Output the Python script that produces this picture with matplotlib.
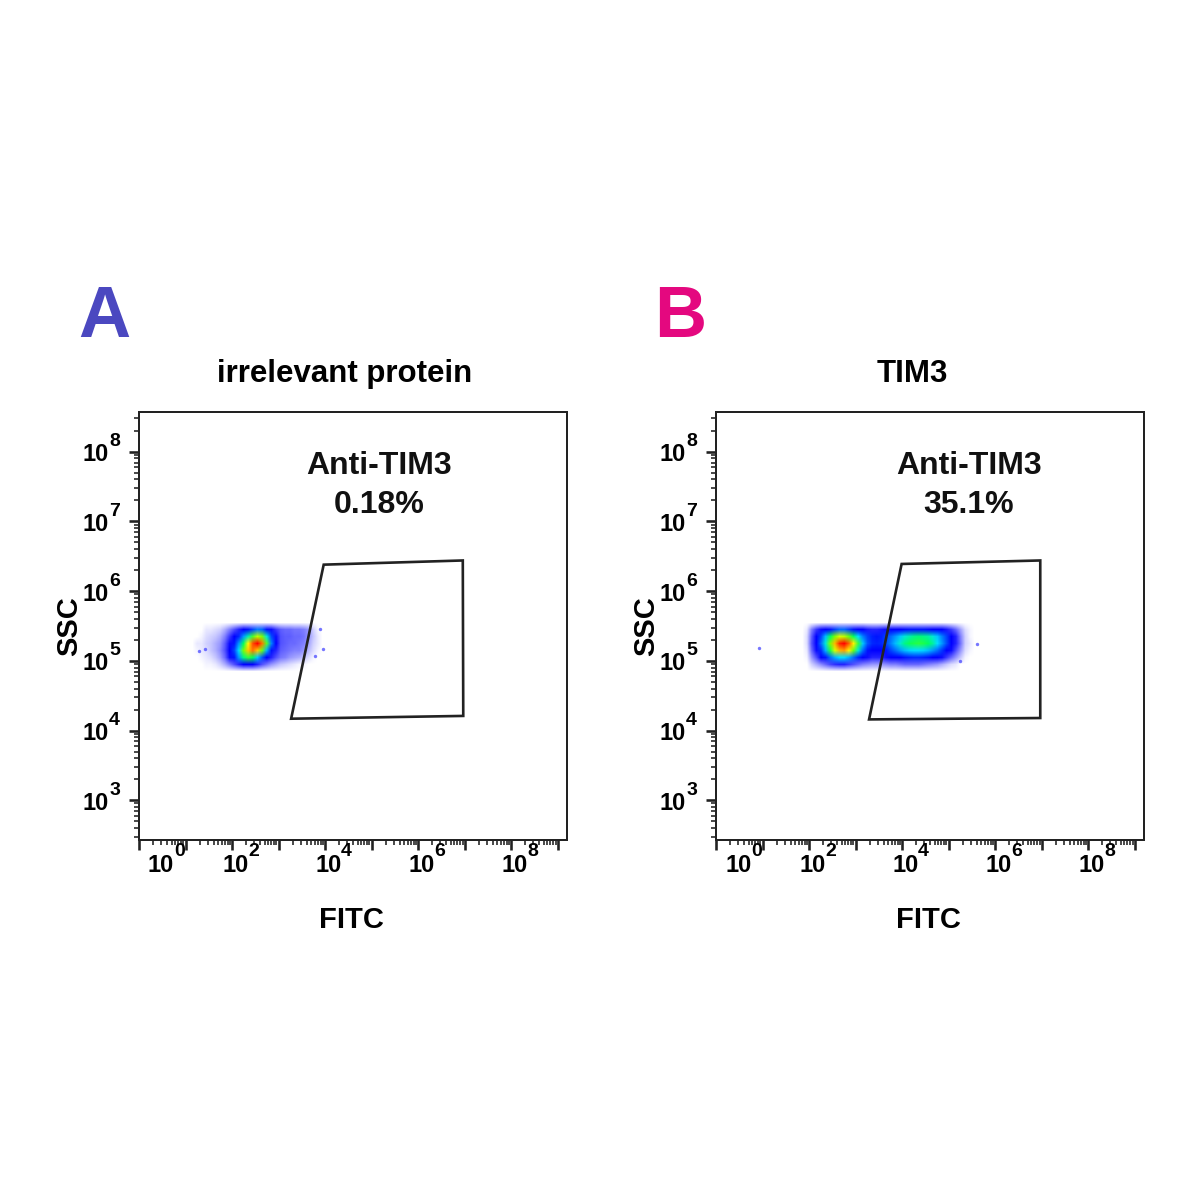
import numpy as np
import matplotlib
matplotlib.use('Agg')
import matplotlib.pyplot as plt
from matplotlib.colors import LinearSegmentedColormap

plt.rcParams['font.family'] = ['Liberation Sans', 'DejaVu Sans']
plt.rcParams['font.weight'] = 'bold'

# everything is in log10 units (FITC on x, SSC on y)
letters = ['A', 'B']
letter_colors = ['#4b48c0', '#e4087f']
titles = ['irrelevant protein', 'TIM3']
gate_name = 'Anti-TIM3'
gate_pcts = ['0.18%', '35.1%']

gate_a_x = [3.27, 3.97, 6.96, 6.97]
gate_a_y = [4.17, 6.38, 6.44, 4.21]
gate_b_x = [3.29, 3.99, 6.97, 6.97]
gate_b_y = [4.16, 6.39, 6.44, 4.18]

gate_text_x = [5.16, 5.44]
gate_text_y = [7.80, 7.24]

# density of events, rows from SSC 10^5.45 down to 10^4.95, one column per 0.1 decade of FITC
dens_y = (4.9, 5.5)
dens_a_x = (1.2, 3.9)
dens_a = [
    [0, 0, 0.3, 0.3, 0.4, 0.5, 0.8, 1.2, 1.6, 2.0, 2.5, 3.0, 3.5, 4.0, 3.8, 3.0, 2.2, 1.8, 1.5, 1.4, 1.4, 1.3, 1.3, 1.2, 1.0, 0.5, 0.2],
    [0, 0.2, 0.4, 0.5, 0.6, 0.8, 1.2, 1.8, 2.4, 3.2, 4.2, 5.2, 6.2, 7.0, 6.5, 5.0, 3.5, 2.2, 1.6, 1.5, 1.5, 1.4, 1.4, 1.3, 1.0, 0.6, 0.3],
    [0.3, 0.3, 0.5, 0.6, 0.8, 1.0, 1.5, 2.2, 3.0, 4.2, 5.6, 7.5, 9.2, 10, 8.8, 6.2, 4.0, 2.4, 1.6, 1.5, 1.4, 1.4, 1.3, 1.2, 0.9, 0.5, 0.3],
    [0.2, 0.3, 0.4, 0.6, 0.8, 1.1, 1.6, 2.4, 3.4, 4.8, 6.5, 8.0, 8.8, 8.0, 6.4, 4.4, 3.0, 2.0, 1.5, 1.4, 1.3, 1.2, 1.2, 1.0, 0.7, 0.4, 0.2],
    [0, 0.2, 0.3, 0.4, 0.6, 0.9, 1.4, 2.2, 3.0, 4.2, 5.4, 6.0, 5.6, 4.6, 3.6, 2.6, 2.0, 1.6, 1.3, 1.2, 1.0, 0.9, 0.8, 0.6, 0.4, 0.2, 0],
    [0, 0, 0.2, 0.2, 0.3, 0.5, 0.8, 1.2, 1.6, 2.0, 2.4, 2.5, 2.3, 2.0, 1.6, 1.3, 1.0, 0.8, 0.6, 0.5, 0.4, 0.3, 0.2, 0.2, 0, 0, 0],
]
dens_b_x = (1.9, 5.5)
dens_b = [
    [0.3, 1.2, 1.8, 2.2, 2.6, 3.0, 3.4, 3.8, 3.8, 3.4, 3.0, 2.6, 2.3, 2.1, 2.0, 2.0, 2.1, 2.2, 2.4, 2.6,
     2.8, 2.9, 3.0, 3.0, 3.0, 3.0, 2.9, 2.8, 2.6, 2.4, 2.1, 1.8, 1.4, 0.9, 0.4, 0.2],
    [0.4, 1.5, 2.4, 3.4, 4.5, 5.6, 6.6, 7.2, 7.0, 6.4, 5.6, 4.8, 4.0, 3.4, 3.1, 3.0, 3.1, 3.4, 3.8, 4.2,
     4.6, 5.0, 5.2, 5.4, 5.5, 5.4, 5.3, 5.0, 4.6, 4.0, 3.4, 2.6, 2.0, 1.2, 0.5, 0.2],
    [0.4, 1.6, 2.6, 3.8, 5.0, 6.6, 8.2, 9.6, 10, 9.0, 7.6, 6.0, 4.6, 3.6, 3.2, 3.1, 3.2, 3.5, 4.0, 4.5,
     5.0, 5.4, 5.7, 5.8, 5.9, 5.8, 5.6, 5.3, 4.8, 4.2, 3.5, 2.7, 2.0, 1.3, 0.5, 0.3],
    [0.3, 1.4, 2.2, 3.2, 4.4, 5.8, 7.2, 8.2, 8.4, 7.6, 6.4, 5.0, 3.8, 3.0, 2.7, 2.6, 2.7, 3.0, 3.4, 3.8,
     4.2, 4.5, 4.7, 4.8, 4.8, 4.7, 4.5, 4.2, 3.8, 3.3, 2.8, 2.2, 1.6, 1.0, 0.4, 0.2],
    [0.2, 1.0, 1.6, 2.3, 3.0, 3.8, 4.4, 4.8, 4.8, 4.4, 3.8, 3.2, 2.6, 2.2, 2.0, 2.0, 2.0, 2.2, 2.4, 2.6,
     2.8, 3.0, 3.1, 3.2, 3.2, 3.1, 3.0, 2.8, 2.5, 2.2, 1.8, 1.4, 1.0, 0.6, 0.2, 0],
    [0.1, 0.5, 0.8, 1.1, 1.4, 1.7, 1.9, 2.0, 2.0, 1.8, 1.6, 1.4, 1.2, 1.1, 1.0, 1.0, 1.0, 1.1, 1.2, 1.2,
     1.3, 1.4, 1.4, 1.4, 1.4, 1.3, 1.2, 1.1, 1.0, 0.8, 0.6, 0.4, 0.3, 0.1, 0, 0],
]

# single events away from the main cloud
stray_a_x = [1.28, 1.42, 3.89, 3.96, 3.78]
stray_a_y = [5.14, 5.17, 5.45, 5.17, 5.07]
stray_b_x = [0.92, 5.61, 5.25]
stray_b_y = [5.18, 5.24, 5.00]

x_label_pos = [0, 2, 4, 6, 8]
y_label_pos = [3, 4, 5, 6, 7, 8]

cmap = LinearSegmentedColormap.from_list('flow', [
    (0.0, '#0000ff'), (0.28, '#0000ff'), (0.4, '#0080ff'), (0.48, '#00e0ff'),
    (0.56, '#00ff60'), (0.66, '#80ff00'), (0.75, '#ffff00'), (0.87, '#ff8000'), (1.0, '#ff0000')])

PX = 0.72  # points per pixel at dpi 100
ink = '#222222'
cell = 0.1  # grid step in decades

fig = plt.figure(figsize=(12, 12), dpi=100)
fig.patch.set_facecolor('white')

panels = [
    (0.11583, dens_a, dens_a_x, stray_a_x, stray_a_y, gate_a_x, gate_a_y),
    (0.59667, dens_b, dens_b_x, stray_b_x, stray_b_y, gate_b_x, gate_b_y),
]

for i, (left, dens, dx, sx, sy, gx, gy) in enumerate(panels):
    ax = fig.add_axes([left, 0.3, 0.35667, 0.35667])
    ax.set_xlim(0, 9.2)
    ax.set_ylim(2.43, 8.57)

    # density cloud, with an empty border so its edge fades out
    v = np.pad(np.array(dens, dtype=float), 1)
    rgba = cmap(v / 10.0)
    rgba[..., 3] = np.clip((v - 0.1) / 2.2, 0, 1)
    ax.imshow(rgba, extent=[dx[0] - cell, dx[1] + cell, dens_y[0] - cell, dens_y[1] + cell],
              origin='upper', interpolation='bilinear', aspect='auto', zorder=1)
    ax.scatter(sx, sy, s=6, color='#3c3cff', alpha=0.7, linewidths=0, zorder=1)

    # gate
    ax.fill(gx, gy, facecolor='none', edgecolor=ink, linewidth=1.9, zorder=3)
    ax.text(gate_text_x[i], gate_text_y[0], gate_name, ha='center', va='center', fontsize=23, fontweight='bold', color='#111111')
    ax.text(gate_text_x[i], gate_text_y[1], gate_pcts[i], ha='center', va='center', fontsize=23, fontweight='bold', color='#111111')

    # log-style ticks
    ax.set_xticks(range(10))
    ax.set_xticks([n + np.log10(k) for n in range(9) for k in range(2, 10) if n + np.log10(k) < 9.2], minor=True)
    ax.set_yticks(y_label_pos)
    ax.set_yticks([n + np.log10(k) for n in range(2, 9) for k in range(2, 10) if 2.43 < n + np.log10(k) < 8.57], minor=True)
    ax.tick_params(which='both', direction='out', colors=ink, labelbottom=False, labelleft=False,
                   top=False, right=False)
    ax.tick_params(which='major', length=10 * PX, width=2.6 * PX)
    ax.tick_params(which='minor', length=5 * PX, width=1.6 * PX)
    for sp in ax.spines.values():
        sp.set_color(ink)
        sp.set_linewidth(2 * PX)

    for p in x_label_pos:
        off = 9 if p == 0 else -10
        ax.annotate('10', xy=(p, 0), xycoords=('data', 'axes fraction'), xytext=(off * PX, -25 * PX),
                    textcoords='offset points', ha='left', va='center', fontsize=17, fontweight='bold',
                    annotation_clip=False)
        ax.annotate(str(p), xy=(p, 0), xycoords=('data', 'axes fraction'), xytext=((off + 26) * PX, -12 * PX),
                    textcoords='offset points', ha='left', va='center', fontsize=14, fontweight='bold',
                    annotation_clip=False)
    for p in y_label_pos:
        ax.annotate('10', xy=(0, p), xycoords=('axes fraction', 'data'), xytext=(-30 * PX, -3 * PX),
                    textcoords='offset points', ha='right', va='center', fontsize=17, fontweight='bold',
                    annotation_clip=False)
        ax.annotate(str(p), xy=(0, p), xycoords=('axes fraction', 'data'), xytext=(-19 * PX, 10 * PX),
                    textcoords='offset points', ha='right', va='center', fontsize=14, fontweight='bold',
                    annotation_clip=False)

    ax.text(-0.162, 0.5, 'SSC', rotation=90, ha='center', va='center', fontsize=21,
            fontweight='bold', transform=ax.transAxes)
    ax.text(0.497, -0.187, 'FITC', ha='center', va='center', fontsize=21,
            fontweight='bold', transform=ax.transAxes)

fig.text(0.2875, 0.6883, titles[0], ha='center', va='center', fontsize=22.5, fontweight='bold')
fig.text(0.76, 0.6883, titles[1], ha='center', va='center', fontsize=22.5, fontweight='bold')
fig.text(0.0867, 0.735, letters[0], ha='center', va='center', fontsize=52, fontweight='bold', color=letter_colors[0])
fig.text(0.5667, 0.735, letters[1], ha='center', va='center', fontsize=52, fontweight='bold', color=letter_colors[1])

fig.savefig('out.png', dpi=100, facecolor='white')
